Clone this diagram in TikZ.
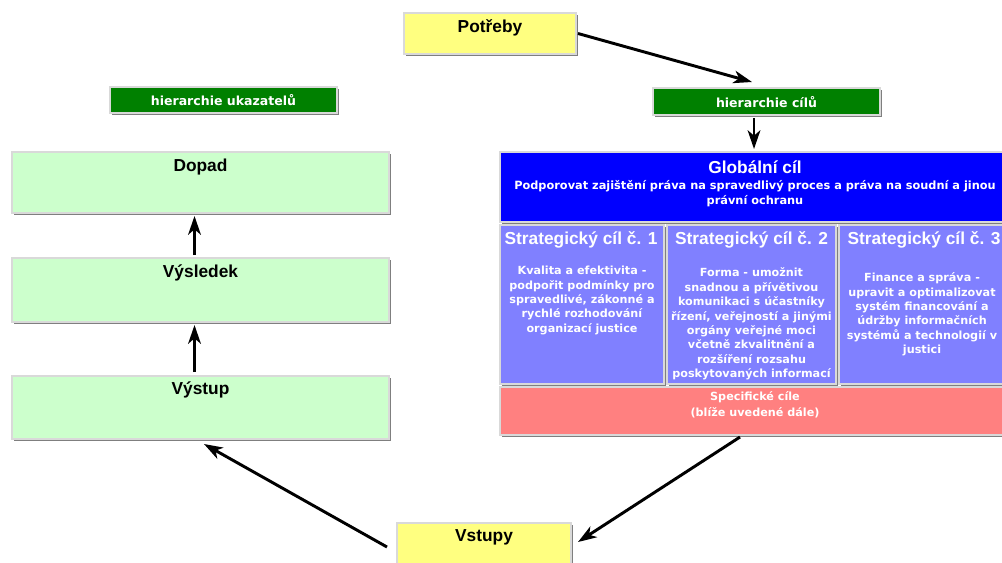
\documentclass[tikz,border=0pt]{standalone}
\usepackage{fontspec}
\setmainfont{Liberation Sans}
\newfontfamily\dvs{DejaVu Sans}
\usetikzlibrary{arrows.meta,shadows,fit,calc}

\definecolor{yellowbox}{HTML}{FFFF80}
\definecolor{greenhead}{HTML}{008000}
\definecolor{greenbox}{HTML}{CCFFCC}
\definecolor{bluebox}{HTML}{0000FF}
\definecolor{violetbox}{HTML}{8080FF}
\definecolor{pinkbox}{HTML}{FF8080}

\begin{document}
\begin{tikzpicture}[x=0.75pt,y=-0.75pt,
  box/.style={draw=black!15, line width=0.9pt, inner sep=0pt, outer sep=0pt,
    drop shadow={shadow xshift=1.8pt, shadow yshift=-1.8pt, opacity=0.5, fill=black}},
  ttl/.style={font=\bfseries\fontsize{13}{15.6}\selectfont, inner sep=0pt},
  hier/.style={font=\dvs\bfseries\fontsize{9.4}{11}\selectfont, text=white, inner sep=0pt},
  sml/.style={font=\dvs\bfseries\fontsize{8.4}{10.8}\selectfont, align=center, inner sep=0pt, text=white},
  arr/.style={line width=2.2pt, -{Stealth[length=14pt,width=9.5pt,inset=4pt]}},
]
\fill[white] (0,0) rectangle (1002,562);
\useasboundingbox (0,0) rectangle (1002,562);

% boxes
\node[box, fill=yellowbox, fit={(404,13) (576,54)}] (potreby) {};
\node[box, fill=greenhead, fit={(110,87) (337,113)}] (ukaz) {};
\node[box, fill=greenhead, fit={(653,88) (880,115)}] (cile) {};
\node[box, fill=greenbox, fit={(12,152) (389,213)}] (dopad) {};
\node[box, fill=greenbox, fit={(12,258) (389,322)}] (vysl) {};
\node[box, fill=greenbox, fit={(12,376) (389,439)}] (vystup) {};
\node[box, fill=yellowbox, fit={(397,523) (571,580)}] (vstupy) {};
\node[box, fill=bluebox, fit={(500,152) (1010,222)}] (glob) {};
\node[box, fill=violetbox, fit={(500,225) (664,384)}] (s1) {};
\node[box, fill=violetbox, fit={(667,225) (836,384)}] (s2) {};
\node[box, fill=violetbox, fit={(839,225) (1008,384)}] (s3) {};
\node[box, fill=pinkbox, fit={(500,387) (1010,435)}] (spec) {};

% texts
\node[ttl] (potrebyT) at (490,28) {Potřeby};
\node[hier] (ukazT) at (223.5,100) {hierarchie ukazatelů};
\node[hier] (cileT) at (766.5,102) {hierarchie cílů};
\node[ttl] (dopadT) at (200.5,167) {Dopad};
\node[ttl] (vyslT) at (200.5,273) {Výsledek};
\node[ttl] (vystupT) at (200.5,390) {Výstup};
\node[ttl] (vstupyT) at (484,537) {Vstupy};
\node[ttl, text=white] (globT) at (755,167) {Globální cíl};
\node[sml, font=\dvs\bfseries\fontsize{8.5}{11.2}\selectfont] (globB) at (755,194)
  {Podporovat zajištění práva na spravedlivý proces a práva na soudní a jinou\\ právní ochranu};
\node[ttl, text=white] (s1T) at (581,240) {Strategický cíl č. 1};
\node[ttl, text=white] (s2T) at (751.5,240) {Strategický cíl č. 2};
\node[ttl, text=white] (s3T) at (924,240) {Strategický cíl č. 3};
\node[sml] (s1B) at (582,300.5)
  {Kvalita a efektivita -\\ podpořit podmínky pro\\ spravedlivé, zákonné a\\ rychlé rozhodování\\ organizací justice};
\node[sml] (s2B) at (751.5,324)
  {Forma - umožnit\\ snadnou a přívětivou\\ komunikaci s účastníky\\ řízení, veřejností a jinými\\ orgány veřejné moci\\ včetně zkvalitnění a\\ rozšíření rozsahu\\ poskytovaných informací};
\node[sml] (s3B) at (922,314.5)
  {Finance a správa -\\ upravit a optimalizovat\\ systém financování a\\ údržby informačních\\ systémů a technologií v\\ justici};
\node[sml, font=\dvs\bfseries\fontsize{8.4}{12}\selectfont] (specB) at (755,405)
  {Specifické cíle\\ (blíže uvedené dále)};

% connectors
\draw[arr] ($(potreby.east)+(2,0)$) -- ($(cile.north)+(-14.5,-6)$);
\draw[arr] ($(cile.south)+(-12.5,3)$) -- ($(glob.north)+(-1,-3)$);
\draw[arr] ($(vysl.north)+(-6,-3)$) -- ($(dopad.south)+(-6,3)$);
\draw[arr] ($(vystup.north)+(-6,-4)$) -- ($(vysl.south)+(-6,3)$);
\draw[arr] ($(vstupy.north west)+(-10,24)$) -- ($(vystup.south)+(3.5,5)$);
\draw[arr] ($(spec.south)+(-15,2)$) -- ($(vstupy.north east)+(7,19)$);
\end{tikzpicture}
\end{document}
